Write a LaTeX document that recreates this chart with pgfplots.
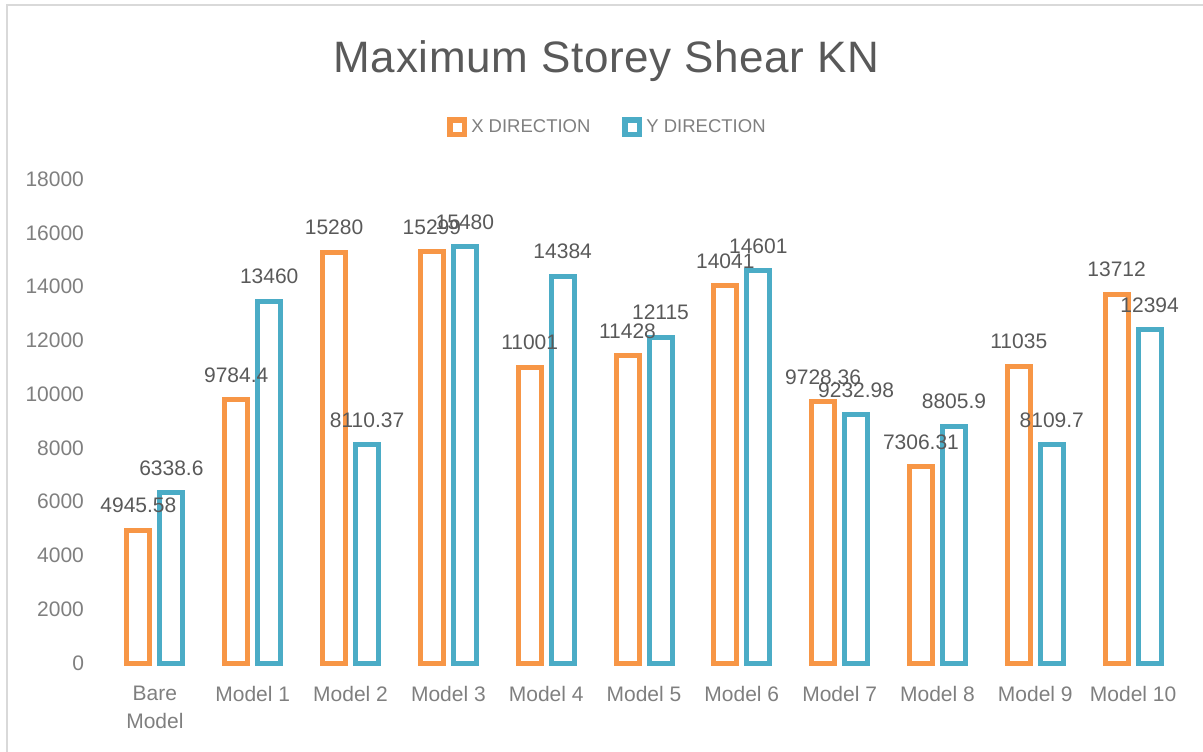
\documentclass[border=0pt]{standalone}
\usepackage{fontspec}
\setmainfont{Liberation Sans}
\usepackage{pgfplots}
\usepackage{pgfplotstable}
\pgfplotsset{compat=1.18}
\definecolor{xorange}{HTML}{F79646}
\definecolor{yblue}{HTML}{4BACC6}
\definecolor{titlegray}{HTML}{595959}
\definecolor{tickgray}{HTML}{7F7F7F}

\pgfplotstableread{
x y
0 4945.58
1 9784.4
2 15280
3 15299
4 11001
5 11428
6 14041
7 9728.36
8 7306.31
9 11035
10 13712
}\xdata

\pgfplotstableread{
x y
0 6338.6
1 13460
2 8110.37
3 15480
4 14384
5 12115
6 14601
7 9232.98
8 8805.9
9 8109.7
10 12394
}\ydata

\begin{document}
\begin{tikzpicture}
\path[use as bounding box] (0,0) rectangle (601.5pt,-375.5pt);
\draw[black!15, line width=1pt] (3.5pt,-376pt) -- (3.5pt,-2.5pt) -- (602pt,-2.5pt);
\node[anchor=base, font=\fontsize{22}{26}\selectfont\addfontfeatures{LetterSpace=1.5}, text=titlegray] at (303.25pt,-36pt) {Maximum Storey Shear KN};
\begin{axis}[
  at={(53pt,-331.5pt)}, anchor=south west,
  scale only axis, width=538pt, height=242pt,
  xmin=-0.5, xmax=10.5, ymin=0, ymax=18000,
  ybar=5pt, bar width=11.5pt,
  axis line style={draw=none}, major tick length=0pt,
  xtick={0,1,2,3,4,5,6,7,8,9,10},
  xticklabels={{Bare\\Model},{Model 1},{Model 2},{Model 3},{Model 4},{Model 5},{Model 6},{Model 7},{Model 8},{Model 9},{Model 10}},
  xticklabel style={align=center, font=\fontsize{10.5}{14}\selectfont, text=tickgray, yshift=-8pt},
  ytick={0,2000,...,18000},
  scaled y ticks=false,
  yticklabel style={font=\fontsize{10.5}{12}\selectfont, text=tickgray, xshift=-7.5pt},
  /pgf/number format/1000 sep={},
  /pgf/number format/assume math mode=true,
  clip=false,
  point meta=explicit symbolic,
  nodes near coords,
  every node near coord/.append style={font=\fontsize{10.5}{12}\selectfont, text=titlegray, yshift=4pt},
  legend columns=2,
  legend style={draw=none, fill=none, at={(0.467,1.107)}, anchor=center,
    font=\fontsize{9.25}{11}\selectfont, text=tickgray,
    /tikz/every even column/.append style={column sep=14pt}},
]
\addplot[draw=xorange, fill=white, line width=2.5pt,
  legend image code/.code={\draw[draw=xorange, fill=white, line width=2.75pt] (0pt,-3.6pt) rectangle (7.2pt,3.6pt);}]
  table[x=x, y=y, meta=y] {\xdata};
\addlegendentry{X DIRECTION}
\addplot[draw=yblue, fill=white, line width=2.5pt,
  legend image code/.code={\draw[draw=yblue, fill=white, line width=2.75pt] (0pt,-3.6pt) rectangle (7.2pt,3.6pt);}]
  table[x=x, y=y, meta=y] {\ydata};
\addlegendentry{Y DIRECTION}
\end{axis}
\end{tikzpicture}
\end{document}
